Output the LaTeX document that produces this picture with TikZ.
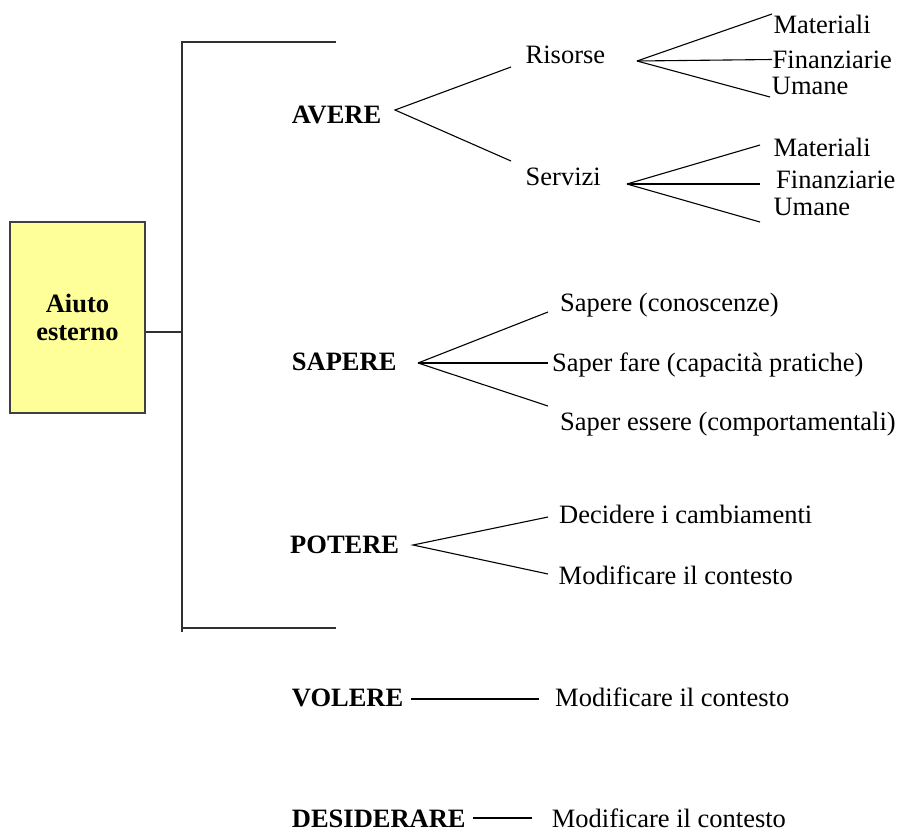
\documentclass[tikz,border=0pt]{standalone}
\usepackage{fontspec}
\setmainfont{Liberation Serif}
\definecolor{boxfill}{HTML}{FFFF99}
\definecolor{boxline}{HTML}{404040}
\definecolor{bracketline}{HTML}{303030}
\begin{document}
\begin{tikzpicture}[x=1pt,y=-1pt,
  lbl/.style={anchor=base west,inner sep=0pt,text depth=0pt,font=\fontsize{26.5}{30}\selectfont},
  head/.style={lbl,font=\fontsize{26.5}{30}\selectfont\bfseries},
  link/.style={line width=1.1pt,black},
  bracket/.style={line width=1.1pt,bracketline},
  helpbox/.style={draw=boxline,line width=1.2pt,fill=boxfill,minimum width=135pt,
    minimum height=191pt,inner sep=0pt,align=center,
    font=\fontsize{26.5}{28.3}\selectfont\bfseries}]
\useasboundingbox (0,0) rectangle (898,831);

% main box
\node[helpbox] (box) at (77.5,317.5) {Aiuto\\esterno};

% bracket collecting the first three branches
\coordinate (bTop) at (182,42);
\coordinate (bTopEnd) at (336,42);
\coordinate (bJoin) at (182,332);
\coordinate (bBot) at (182,628);
\coordinate (bBotEnd) at (336,628);
\coordinate (bTail) at (182,632);
\draw[bracket] (box.east |- bJoin) -- (bJoin);
\draw[bracket] (bTopEnd) -- (bTop) -- (bTail);
\draw[bracket] (bBot) -- (bBotEnd);

% headings
\node[head] (avere) at (291.7,123.3) {AVERE};
\node[head] (sapere) at (291.7,370) {SAPERE};
\node[head] (potere) at (290,553) {POTERE};
\node[head] (volere) at (291.7,706.7) {VOLERE};
\node[head] (desiderare) at (291.7,827.5) {DESIDERARE};

% AVERE branch
\node[lbl] (risorse) at (525.5,63) {Risorse};
\node[lbl] (servizi) at (525.5,185) {Servizi};
\coordinate (avJ) at (395,110);
\coordinate (avR) at (511,67);
\coordinate (avS) at (511,161);
\draw[link] (avR) -- (avJ) -- (avS);

\node[lbl] (rMat) at (773.3,33.3) {Materiali};
\node[lbl] (rFin) at (772.5,68.3) {Finanziarie};
\node[lbl] (rUma) at (771.7,94) {Umane};
\coordinate (rJ) at (637,61);
\coordinate (rJM) at (772,14);
\coordinate (rJF) at (772,59.5);
\coordinate (rJU) at (770,97);
\draw[link] (rJ) -- (rJM);
\draw[link] (rJ) -- (rJF);
\draw[link] (rJ) -- (rJU);

\node[lbl] (sMat) at (773.3,156.7) {Materiali};
\node[lbl] (sFin) at (776,188.3) {Finanziarie};
\node[lbl] (sUma) at (773.3,215) {Umane};
\coordinate (sJ) at (627,184);
\coordinate (sJM) at (760,145);
\coordinate (sJF) at (760,184);
\coordinate (sJU) at (760,222);
\draw[link] (sJ) -- (sJM);
\draw[link] (sJ) -- (sJF);
\draw[link] (sJ) -- (sJU);

% SAPERE branch
\node[lbl] (conosc) at (560,311.7) {Sapere (conoscenze)};
\node[lbl] (fare) at (552,371) {Saper fare (capacità pratiche)};
\node[lbl] (essere) at (560,430) {Saper essere (comportamentali)};
\coordinate (saJ) at (418,363);
\coordinate (saC) at (548,312);
\coordinate (saF) at (548,363);
\coordinate (saE) at (548,406);
\draw[link] (saJ) -- (saC);
\draw[link] (saJ) -- (saF);
\draw[link] (saJ) -- (saE);

% POTERE branch
\node[lbl] (decid) at (559,523.3) {Decidere i cambiamenti};
\node[lbl] (modP) at (558.5,584) {Modificare il contesto};
\coordinate (poJ) at (413,545);
\coordinate (poD) at (548,517);
\coordinate (poM) at (548,574);
\draw[link] (poD) -- (poJ) -- (poM);

% VOLERE branch
\node[lbl] (modV) at (555,706.7) {Modificare il contesto};
\coordinate (voA) at (411,699);
\coordinate (voB) at (539,699);
\draw[link] (voA) -- (voB);

% DESIDERARE branch
\node[lbl] (modD) at (551.7,827.5) {Modificare il contesto};
\coordinate (deA) at (473,818);
\coordinate (deB) at (532,818);
\draw[link] (deA) -- (deB);
\end{tikzpicture}
\end{document}
